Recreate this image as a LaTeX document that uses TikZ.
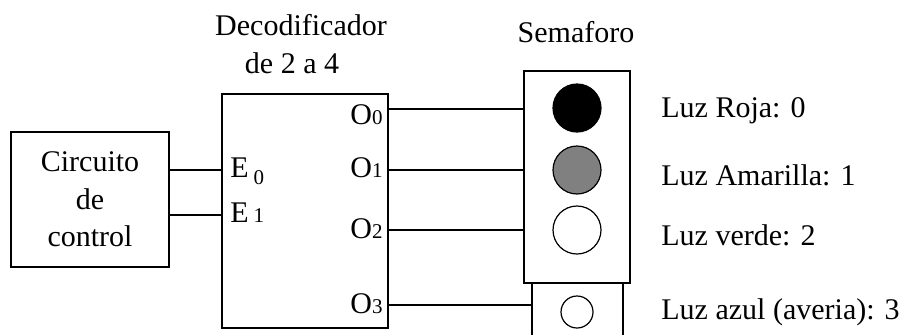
\documentclass[tikz,border=0pt]{standalone}
\usepackage{fontspec}
\setmainfont{Liberation Serif}
\newcommand{\subdig}[1]{{\fontsize{10.5}{11}\selectfont #1}}
\tikzset{
  blk/.style={draw, line width=0.6pt, inner sep=0pt},
  lamp/.style={circle, draw, line width=0.6pt, minimum size=24pt, inner sep=0pt},
  wire/.style={line width=0.6pt},
  pin/.style={inner sep=0pt},
}
\begin{document}
\begin{tikzpicture}[x=0.5pt,y=-0.5pt,font=\fontsize{15}{18.75}\selectfont]
  \useasboundingbox (0,0) rectangle (899,334);
  % bloques
  \node[blk, minimum width=79pt, minimum height=67.5pt, align=center] (ctrl) at (90,199.5) {Circuito\\de\\control};
  \node[blk, minimum width=83pt, minimum height=117pt] (dec) at (305,211) {};
  \node[align=center] (dectit) at (301,44) {Decodificador\\de 2 a 4\hspace*{9pt}\mbox{}};
  \node[blk, minimum width=45.5pt, minimum height=31pt] (aux) at (577.5,314) {};
  \node[blk, minimum width=53pt, minimum height=106pt, fill=white] (sem) at (577,177) {};
  \node[anchor=base] (semtit) at (576,42) {Semaforo};

  % luces
  \foreach \n/\y/\c in {0/108/black,1/170/gray,2/230/white}{\node[lamp, fill=\c] (l\n) at (577,\y) {};}
  \node[lamp, minimum size=16pt] (l3) at (577,312) {};

  % entradas
  \node[pin, anchor=base west] (E0) at (230,177) {E\,\raisebox{-3.5pt}{\subdig{0}}};
  \node[pin, anchor=base west] (E1) at (230,222) {E\,\subdig{1}};
  \coordinate (e0) at (dec.west |- 0,170);
  \coordinate (e1) at (dec.west |- 0,215);
  \draw[wire] (ctrl.east |- e0) -- (e0);
  \draw[wire] (ctrl.east |- e1) -- (e1);

  % salidas
  \foreach \n/\y in {0/124,1/177,2/238,3/313}{\node[pin, anchor=base east] (o\n) at (383,\y) {O\subdig{\n}};}
  \foreach \n/\y in {0/109,1/170,2/230}{
    \coordinate (w\n) at (dec.east |- 0,\y);
    \draw[wire] (w\n) -- (sem.west |- w\n);}
  \coordinate (w3) at (dec.east |- 0,305);
  \draw[wire] (w3) -- (aux.west |- w3);

  % leyenda
  \foreach \n/\y/\t in {0/117/{Luz Roja: 0},1/185/{Luz Amarilla: 1},2/245/{Luz verde: 2},3/319/{Luz azul (averia): 3}}{
    \node[pin, anchor=base west] (t\n) at (661,\y) {\t};}
\end{tikzpicture}
\end{document}
